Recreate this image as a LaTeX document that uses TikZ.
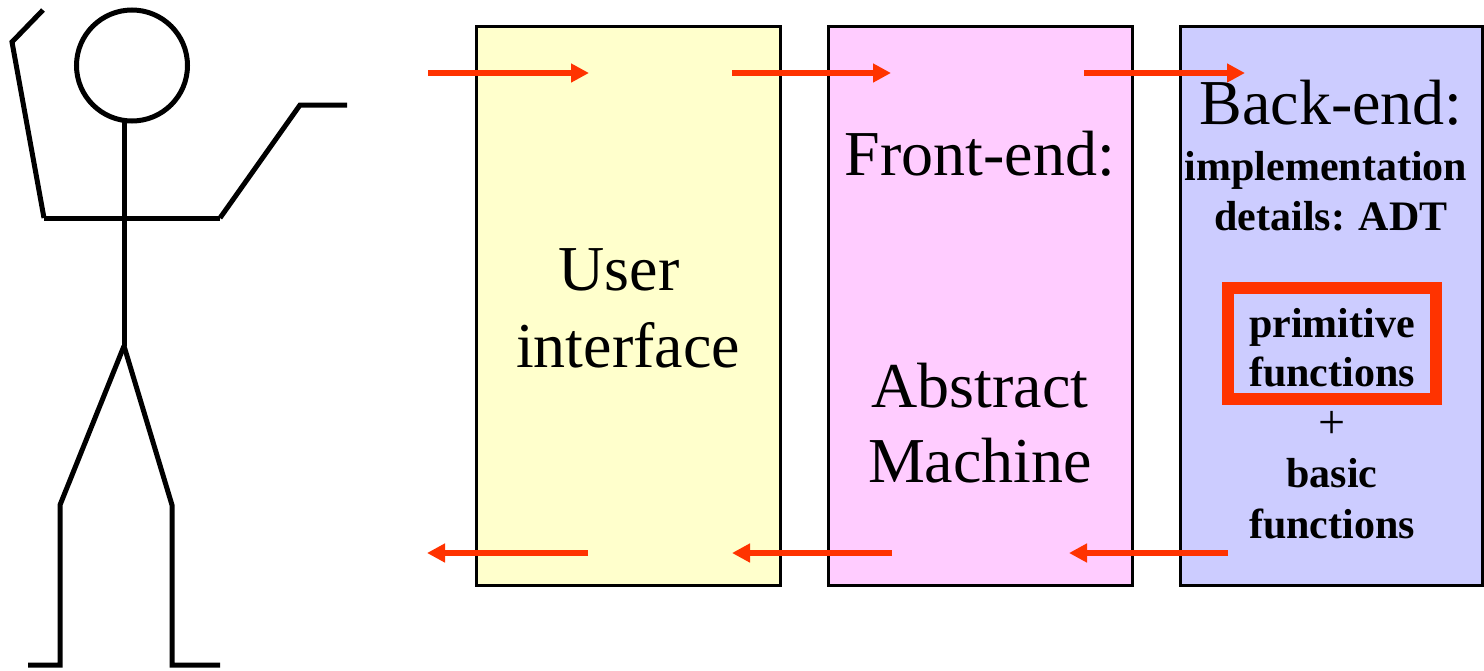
\documentclass[tikz,border=0pt]{standalone}
\usepackage{fontspec}
\setmainfont{Liberation Serif}
\usetikzlibrary{arrows.meta}
\definecolor{ybox}{HTML}{FFFFCC}
\definecolor{pbox}{HTML}{FFCCFF}
\definecolor{bbox}{HTML}{CCCCFF}
\definecolor{redarr}{HTML}{FF3300}
\tikzset{
  panel/.style={draw=black, line width=3pt},
  stick/.style={draw=black, line width=5pt},
  flow/.style={draw=redarr, line width=5.5pt, -{Triangle[length=18pt,width=18pt]}},
  bigtxt/.style={anchor=base, inner sep=0pt, font=\fontsize{64}{76}\selectfont},
  boldtxt/.style={anchor=base, inner sep=0pt, font=\fontsize{42}{50}\selectfont\bfseries},
  plustxt/.style={anchor=base, inner sep=0pt, font=\fontsize{48}{50}\selectfont},
}
\begin{document}
\begin{tikzpicture}[x=1pt,y=-1pt]
\useasboundingbox (0,0) rectangle (1484,670);
% panels
\path[panel, fill=ybox] (476,26) rectangle (780,585);
\path[panel, fill=pbox] (828,26) rectangle (1132,585);
\path[panel, fill=bbox] (1180,26) rectangle (1482,585);
% stick figure
\draw[stick] (132,65.5) circle (55.5);
\draw[stick] (124,122) -- (124,346);
\draw[stick] (44,218) -- (220,218);
\draw[stick] (44,218) -- (12,42) -- (43,10);
\draw[stick] (220,218) -- (300,105) -- (347,105);
\draw[stick] (124,346) -- (60,505) -- (60,665) -- (28,665);
\draw[stick] (124,346) -- (172,505) -- (172,665) -- (220,665);
% texts
\node[bigtxt] (u1) at (619,290) {User};
\node[bigtxt] (u2) at (628,367) {interface};
\node[bigtxt] (f1) at (980,175) {Front-end:};
\node[bigtxt] (f2) at (980,407) {Abstract};
\node[bigtxt] (f3) at (980,482) {Machine};
\node[bigtxt] (b1) at (1331,124) {Back-end:};
\node[boldtxt] (b2) at (1326,180) {implementation};
\node[boldtxt] (b3) at (1331,230) {details: ADT};
\node[boldtxt] (b4) at (1332,337) {primitive};
\node[boldtxt] (b5) at (1332,386) {functions};
\node[plustxt] (b6) at (1332,438) {+};
\node[boldtxt] (b7) at (1332,487) {basic};
\node[boldtxt] (b8) at (1332,538) {functions};
\draw[draw=redarr, line width=12pt] (1228,288) rectangle (1436,399);
% arrows
\coordinate (a1s) at (428,73); \coordinate (a1e) at (589,73);
\coordinate (a2s) at (732,73); \coordinate (a2e) at (891,73);
\coordinate (a3s) at (1084,73); \coordinate (a3e) at (1245,73);
\coordinate (r1s) at (588,553); \coordinate (r1e) at (427,553);
\coordinate (r2s) at (892,553); \coordinate (r2e) at (732,553);
\coordinate (r3s) at (1228,553); \coordinate (r3e) at (1069,553);
\draw[flow] (a1s) -- (a1e);
\draw[flow] (a2s) -- (a2e);
\draw[flow] (a3s) -- (a3e);
\draw[flow] (r1s) -- (r1e);
\draw[flow] (r2s) -- (r2e);
\draw[flow] (r3s) -- (r3e);
\end{tikzpicture}
\end{document}
